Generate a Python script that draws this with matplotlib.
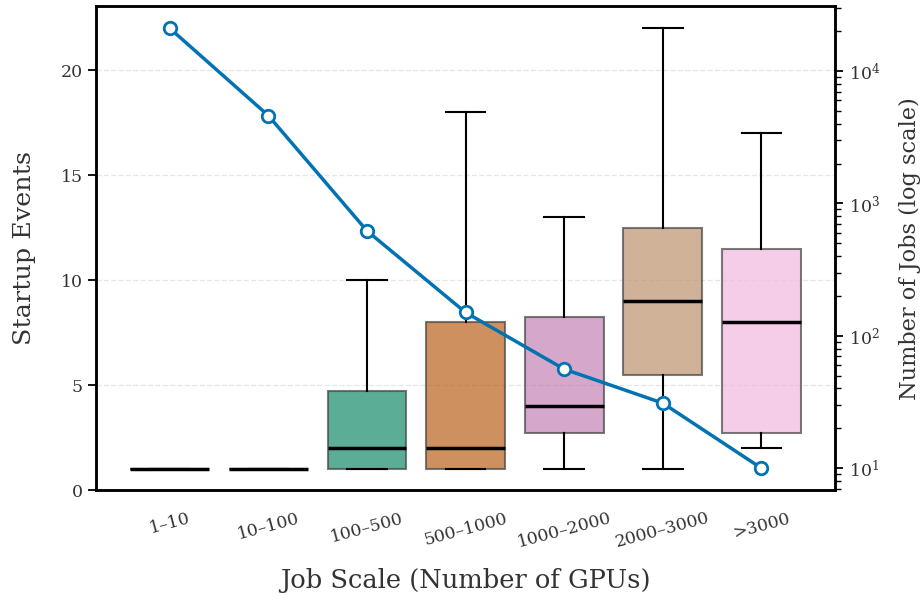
import numpy as np
import matplotlib
matplotlib.use('Agg')
import matplotlib.pyplot as plt
import colorsys
from matplotlib.colors import to_rgb

plt.rcParams['font.family'] = ['DejaVu Serif']

# data
scales = ['1–10', '10–100', '100–500', '500–1000', '1000–2000', '2000–3000', '>3000']
whislo = [1, 1, 1, 1, 1, 1, 2]
q1 = [1, 1, 1, 1, 2.75, 5.5, 2.75]
med = [1, 1, 2, 2, 4, 9, 8]
q3 = [1, 1, 4.75, 8, 8.25, 12.5, 11.5]
whishi = [1, 1, 10, 18, 13, 22, 17]
n_jobs = [21000, 4600, 620, 150, 56, 31, 10]

palette = ['#0173b2', '#de8f05', '#029e73', '#d55e00', '#cc78bc', '#ca9161', '#fbafe4']

def desat(c, prop=0.75):
    h, l, s = colorsys.rgb_to_hls(*to_rgb(c))
    return colorsys.hls_to_rgb(h, l, s * prop)

fig, ax = plt.subplots(figsize=(9.22, 5.98), dpi=100)
fig.subplots_adjust(left=0.104, right=0.906, top=0.99, bottom=0.18)

stats = []
for i in range(len(scales)):
    stats.append(dict(med=med[i], q1=q1[i], q3=q3[i], whislo=whislo[i], whishi=whishi[i], fliers=[]))

pos = np.arange(len(scales))
bp = ax.bxp(stats, positions=pos, widths=0.8, patch_artist=True, showfliers=False,
            boxprops=dict(edgecolor='#444444', linewidth=1.5),
            whiskerprops=dict(color='black', linewidth=1.5),
            capprops=dict(color='black', linewidth=1.5),
            medianprops=dict(color='black', linewidth=2.5),
            capwidths=0.4)
for patch, c in zip(bp['boxes'], palette):
    patch.set_facecolor(desat(c))
    patch.set_alpha(0.7)

ax.set_xlim(-0.75, 6.75)
ax.set_ylim(0, 23.05)
ax.set_yticks([0, 5, 10, 15, 20])
ax.yaxis.grid(True, linestyle='--', color='#dddddd', linewidth=1, alpha=0.7)
ax.set_axisbelow(True)
ax.set_xticks(pos)
ax.set_xticklabels(scales, rotation=15, fontsize=12.5, color='#333333')
ax.tick_params(axis='y', labelsize=12.5, labelcolor='#333333', length=6, width=1.3)
ax.tick_params(axis='x', length=0, pad=14)
ax.set_xlabel('Job Scale (Number of GPUs)', fontsize=18.5, color='#333333', labelpad=12)
ax.set_ylabel('Startup Events', fontsize=18.3, color='#333333', labelpad=18)
for sp in ax.spines.values():
    sp.set_linewidth(1.8)
    sp.set_color('black')

ax2 = ax.twinx()
ax2.plot(pos, n_jobs, color='#0173b2', linewidth=2.5, marker='o', markersize=9,
         markerfacecolor='white', markeredgewidth=2, markeredgecolor='#0173b2')
ax2.set_yscale('log')
ax2.set_ylim(6.8, 31000)
ax2.tick_params(axis='y', which='major', labelsize=12.5, labelcolor='#333333', length=6, width=1.3)
ax2.tick_params(axis='y', which='minor', length=4, width=1)
ax2.set_ylabel('Number of Jobs (log scale)', fontsize=16.2, color='#333333', labelpad=14)
for sp in ax2.spines.values():
    sp.set_linewidth(1.8)

plt.savefig('out.png', dpi=100)
